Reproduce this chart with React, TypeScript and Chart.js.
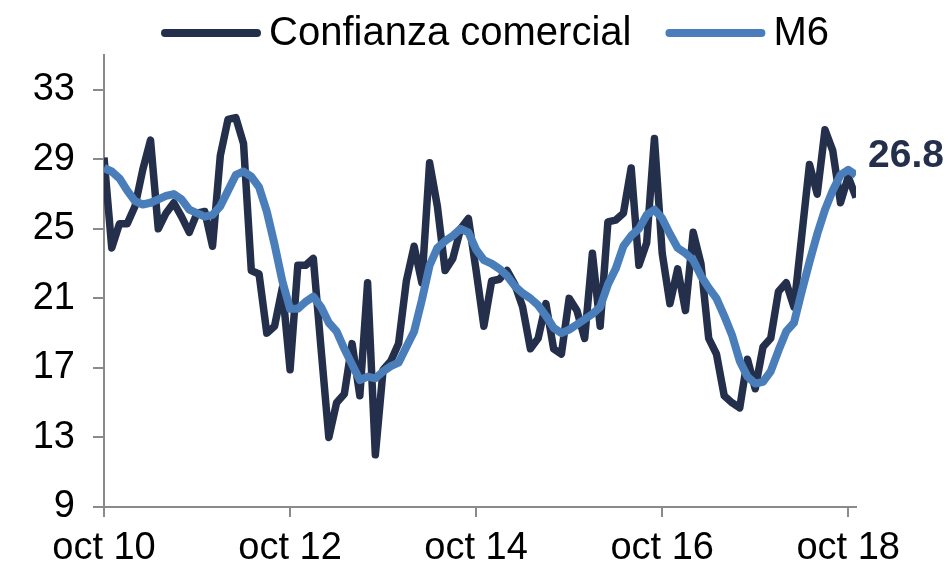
import React, { useEffect, useRef } from 'react';
import { Chart, registerables } from 'chart.js';

Chart.register(...registerables);

const FONT = "'Liberation Sans', Arial, sans-serif";

const SERIES_NAMES = ['Confianza comercial', 'M6'];
const SERIES_COLORS = ['#232F4B', '#4A7EBB'];

// Monthly, Oct 2010 .. Nov 2018 (98 points)
const CONFIANZA = [
  29.1, 23.9, 25.3, 25.3, 26.3, 28.4, 30.1, 25.0, 25.9, 26.5,
  25.7, 24.8, 25.9, 26.0, 24.0, 29.2, 31.3, 31.4, 29.9, 22.6,
  22.4, 19.0, 19.4, 21.6, 16.9, 22.9, 22.9, 23.3, 18.1, 13.0,
  15.0, 15.5, 18.4, 15.4, 21.9, 12.0, 16.9, 17.4, 18.4, 22.0,
  24.0, 21.9, 28.8, 26.3, 22.6, 23.3, 25.0, 25.6, 22.6, 19.4,
  22.0, 22.1, 22.6, 21.8, 20.5, 18.1, 18.7, 20.7, 18.1, 17.8,
  21.0, 20.3, 18.7, 23.6, 19.4, 25.4, 25.5, 25.9, 28.5, 22.9,
  24.2, 30.2, 23.6, 20.7, 22.7, 20.3, 24.8, 23.0, 18.7, 17.8,
  15.4, 15.0, 14.7, 17.5, 15.8, 18.2, 18.7, 21.4, 21.9, 20.5,
  24.6, 28.7, 27.0, 30.7, 29.5, 26.5, 28.0, 26.8,
];

const M6 = [
  28.5, 28.3, 27.9, 27.2, 26.6, 26.4, 26.5, 26.7, 26.9, 27.0,
  26.7, 26.1, 25.9, 25.7, 25.8, 26.3, 27.2, 28.1, 28.3, 28.0,
  27.4, 26.0, 24.1, 22.0, 20.4, 20.4, 20.8, 21.1, 20.5, 19.6,
  19.1, 18.1, 17.2, 16.3, 16.5, 16.4, 16.8, 17.1, 17.3, 18.2,
  19.1, 20.9, 22.9, 23.9, 24.3, 24.6, 25.0, 24.8, 23.8, 23.2,
  23.0, 22.7, 22.3, 21.7, 21.3, 21.0, 20.6, 20.0, 19.3, 19.0,
  19.2, 19.5, 19.8, 20.1, 20.5, 21.8, 22.7, 24.0, 24.6, 25.0,
  25.8, 26.1, 25.6, 24.7, 23.9, 23.6, 23.2, 22.3, 21.6, 21.0,
  20.0, 18.9, 17.4, 16.5, 16.1, 16.2, 16.8, 18.0, 19.1, 19.6,
  21.4, 23.1, 24.7, 26.1, 27.2, 28.1, 28.4, 28.1,
];

const X_TICK_POS = [0, 24, 48, 72, 96];
const X_TICK_LABELS = ['oct 10', 'oct 12', 'oct 14', 'oct 16', 'oct 18'];
const Y_TICKS = [9, 13, 17, 21, 25, 29, 33];
const Y_MIN = 9;
const Y_MAX = 35;

const AXIS_COLOR = '#8A8A8A';

const customLegend = {
  id: 'customLegend',
  afterDraw(chart: any) {
    const ctx = chart.ctx;
    ctx.save();
    ctx.font = `40px ${FONT}`;
    const sampleW = 100;
    const gapText = 8;
    const gapItem = 34;
    const items = chart.data.datasets.map((ds: any) => ({
      text: ds.label as string,
      color: ds.borderColor as string,
      w: ctx.measureText(ds.label).width,
    }));
    const total =
      items.reduce((a: number, it: any) => a + sampleW + gapText + it.w, 0) +
      gapItem * (items.length - 1);
    let x = 495 - total / 2;
    const y = 33;
    items.forEach((it: any) => {
      ctx.beginPath();
      ctx.lineCap = 'round';
      ctx.lineWidth = 8;
      ctx.strokeStyle = it.color;
      ctx.moveTo(x + 4, y);
      ctx.lineTo(x + sampleW - 4, y);
      ctx.stroke();
      ctx.fillStyle = '#000';
      ctx.textBaseline = 'middle';
      ctx.textAlign = 'left';
      ctx.fillText(it.text, x + sampleW + gapText, y + 1);
      x += sampleW + gapText + it.w + gapItem;
    });
    ctx.restore();
  },
};

const endLabel = {
  id: 'endLabel',
  afterDatasetsDraw(chart: any) {
    const meta = chart.getDatasetMeta(1);
    const pts = meta.data;
    if (!pts.length) return;
    const last = pts[pts.length - 1];
    const ctx = chart.ctx;
    ctx.save();
    ctx.font = `bold 39px ${FONT}`;
    ctx.fillStyle = SERIES_COLORS[0];
    ctx.textAlign = 'left';
    ctx.textBaseline = 'alphabetic';
    ctx.fillText(CONFIANZA[CONFIANZA.length - 1].toFixed(1), last.x + 12, last.y - 8);
    ctx.restore();
  },
};

export default function App() {
  const ref = useRef<HTMLCanvasElement | null>(null);

  useEffect(() => {
    if (!ref.current) return;
    const toPoints = (arr: number[]) => arr.map((v, i) => ({ x: i, y: v }));
    const chart = new Chart(ref.current, {
      type: 'line',
      data: {
        datasets: [
          {
            label: SERIES_NAMES[0],
            data: toPoints(CONFIANZA),
            borderColor: SERIES_COLORS[0],
            backgroundColor: SERIES_COLORS[0],
            borderWidth: 7.5,
            pointRadius: 0,
            tension: 0,
            borderJoinStyle: 'round',
            order: 1,
          },
          {
            label: SERIES_NAMES[1],
            data: toPoints(M6),
            borderColor: SERIES_COLORS[1],
            backgroundColor: SERIES_COLORS[1],
            borderWidth: 8,
            pointRadius: 0,
            tension: 0,
            borderJoinStyle: 'round',
            order: 0,
          },
        ],
      },
      options: {
        animation: false,
        responsive: false,
        devicePixelRatio: 1,
        layout: { padding: { top: 55, right: 93, left: 0, bottom: 0 } },
        plugins: {
          legend: { display: false },
          tooltip: { enabled: false },
        },
        scales: {
          x: {
            type: 'linear',
            min: 0,
            max: CONFIANZA.length - 1,
            afterBuildTicks: (scale: any) => {
              scale.ticks = X_TICK_POS.map((v) => ({ value: v }));
            },
            afterFit: (scale: any) => {
              scale.height = 59;
            },
            ticks: {
              autoSkip: false,
              maxRotation: 0,
              minRotation: 0,
              padding: 9,
              color: '#000',
              font: { family: FONT, size: 38 },
              callback: (value: any) => {
                const idx = X_TICK_POS.indexOf(Number(value));
                return idx >= 0 ? X_TICK_LABELS[idx] : '';
              },
            },
            grid: {
              display: true,
              drawOnChartArea: false,
              drawTicks: true,
              tickLength: 10,
              color: AXIS_COLOR,
              lineWidth: 2,
            },
            border: { display: true, color: AXIS_COLOR, width: 2 },
          },
          y: {
            type: 'linear',
            min: Y_MIN,
            max: Y_MAX,
            afterBuildTicks: (scale: any) => {
              scale.ticks = Y_TICKS.map((v) => ({ value: v }));
            },
            afterFit: (scale: any) => {
              scale.width = 104;
            },
            ticks: {
              padding: 18,
              color: '#000',
              font: { family: FONT, size: 38 },
              callback: (value: any) => String(value),
            },
            grid: {
              display: true,
              drawOnChartArea: false,
              drawTicks: true,
              tickLength: 11,
              color: AXIS_COLOR,
              lineWidth: 2,
            },
            border: { display: true, color: AXIS_COLOR, width: 2 },
          },
        },
      },
      plugins: [customLegend, endLabel],
    });
    return () => chart.destroy();
  }, []);

  return (
    <div style={{ position: 'fixed', left: 0, top: 0, width: 949, height: 566, background: '#fff' }}>
      <canvas ref={ref} width={949} height={566} style={{ display: 'block' }} />
    </div>
  );
}
